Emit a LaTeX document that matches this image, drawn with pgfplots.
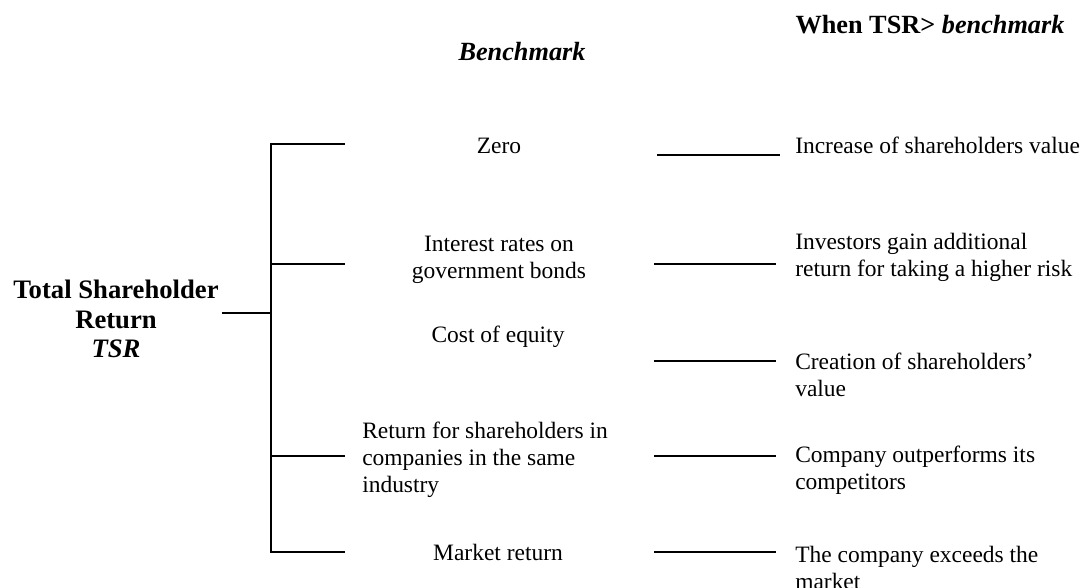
\documentclass[border=0pt]{standalone}
\usepackage{fontspec}
\setmainfont{Liberation Serif}
\usepackage{pgfplots}
\pgfplotsset{compat=1.18}
\begin{document}
\begin{tikzpicture}
\begin{axis}[
  width=814.5pt, height=440.25pt, scale only axis,
  xmin=0, xmax=1086, ymin=0, ymax=587, y dir=reverse,
  hide axis, clip=false,
  cycle list={{black, solid, mark=none}},
  every axis plot post/.append style={line width=1.4pt, line cap=rect},
  nodes={font=\fontsize{17.6}{20.3}\selectfont, inner sep=0pt}
]
% tree: vertical spine and branches
\addplot coordinates {(271,144) (271,552)};
\addplot coordinates {(271,144) (344,144)};
\addplot coordinates {(271,264) (344,264)};
\addplot coordinates {(271,456) (344,456)};
\addplot coordinates {(271,552) (344,552)};
\addplot coordinates {(223,313) (271,313)};
% connectors to outcomes
\addplot coordinates {(658,155) (779,155)};
\addplot coordinates {(655,264) (775,264)};
\addplot coordinates {(655,361) (775,361)};
\addplot coordinates {(655,456) (775,456)};
\addplot coordinates {(655,552) (775,552)};
% headers
\node[font=\fontsize{19.7}{23}\selectfont] at (axis cs:522,52) {\textbf{\textit{Benchmark}}};
\node[font=\fontsize{19.7}{23}\selectfont] at (axis cs:930,25) {\textbf{When TSR> \textit{benchmark}}};
% root
\node[align=center, font=\fontsize{20}{22}\selectfont\bfseries] at (axis cs:116,319) {Total Shareholder\\Return\\\textit{TSR}};
% benchmarks
\node at (axis cs:499,146) {Zero};
\node[align=center] at (axis cs:499,260) {Interest rates on\\government bonds};
\node at (axis cs:498,337) {Cost of equity};
\node[anchor=west, align=left] at (axis cs:362,460) {Return for shareholders in\\companies in the same\\industry};
\node at (axis cs:498,552) {Market return};
% outcomes
\node[anchor=west] at (axis cs:795,145) {Increase of shareholders value};
\node[anchor=west, align=left] at (axis cs:795,257) {Investors gain additional\\return for taking a higher risk};
\node[anchor=west, align=left] at (axis cs:795,375) {Creation of shareholders’\\value};
\node[anchor=west, align=left] at (axis cs:795,470) {Company outperforms its\\competitors};
\node[anchor=west, align=left] at (axis cs:795,568) {The company exceeds the\\market};
\end{axis}
\pgfresetboundingbox
\useasboundingbox (0,0) rectangle (814.5pt,440.25pt);
\end{tikzpicture}
\end{document}
